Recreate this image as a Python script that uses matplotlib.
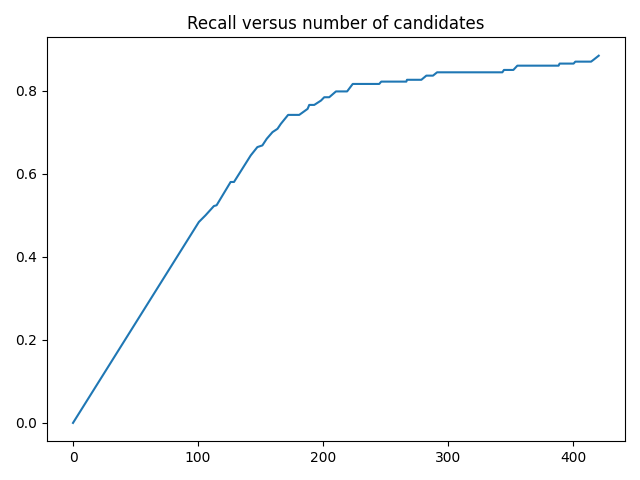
import matplotlib
matplotlib.use("Agg")
import matplotlib.pyplot as plt

candidates = [0, 100.7, 106, 112.7, 114.9, 126.1, 128.8, 142.2, 147.5, 151.5, 155, 159.6,
              163.6, 166.3, 172.1, 181, 187.7, 189, 193, 198.4, 201, 205, 210.4, 219.3,
              223.8, 245, 246.6, 266.7, 267.2, 278.7, 282.7, 288, 291.3, 343.5, 344.8,
              352.3, 355.5, 388.5, 389.3, 400.5, 401.9, 414.5, 416.6, 420.6]
recall = [0.0, 0.4837, 0.4997, 0.522, 0.524, 0.580, 0.580, 0.644, 0.664, 0.668, 0.684, 0.700,
          0.708, 0.720, 0.7415, 0.7415, 0.756, 0.7655, 0.7655, 0.776, 0.784, 0.784, 0.798, 0.798,
          0.816, 0.816, 0.8216, 0.8216, 0.826, 0.826, 0.836, 0.836, 0.844, 0.844, 0.8497,
          0.8497, 0.860, 0.860, 0.865, 0.865, 0.8697, 0.8697, 0.8745, 0.884]

fig, ax = plt.subplots(figsize=(6.4, 4.8), dpi=100)
ax.plot(candidates, recall)
ax.set_title("Recall versus number of candidates")
fig.tight_layout()
fig.savefig("out.png")
